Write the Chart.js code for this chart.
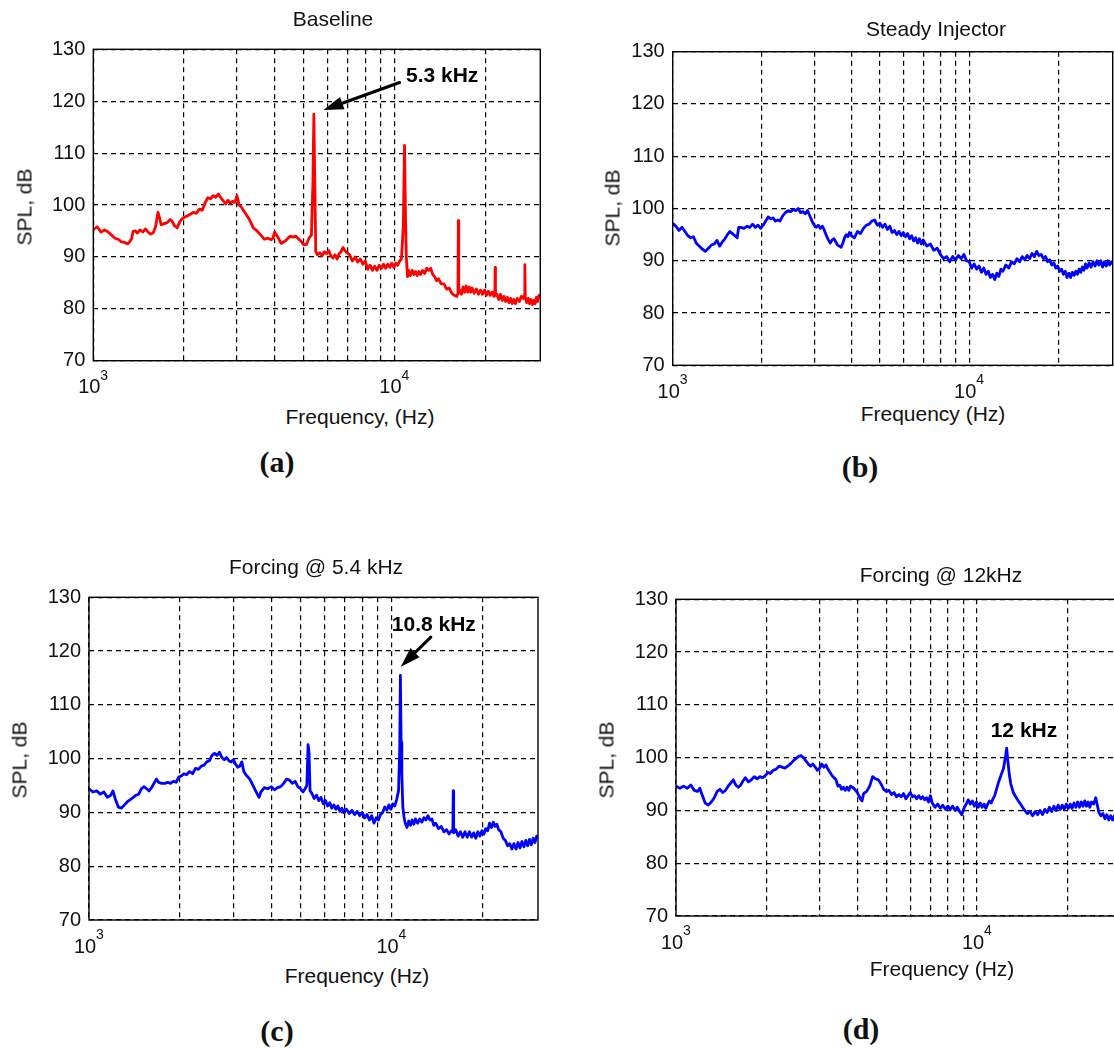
<!DOCTYPE html>
<html><head><meta charset="utf-8">
<script src="https://cdn.jsdelivr.net/npm/chart.js@4.4.1/dist/chart.umd.min.js"></script>
<style>
html,body{margin:0;padding:0;background:#fff;}
body{width:1114px;height:1049px;overflow:hidden;position:relative;font-family:"Liberation Sans",Arial,sans-serif;color:#111;}
canvas{position:absolute;}
.t{position:absolute;transform:translate(-50%,-50%);white-space:nowrap;font-size:21px;line-height:1;}
.yl{transform:translate(-50%,-50%) rotate(-90deg);}
.pl{font-family:"Liberation Serif","Times New Roman",serif;font-weight:bold;font-size:30px;}
</style></head><body>
<canvas id="ca" width="560" height="400" style="left:0px;top:0px"></canvas>
<canvas id="cb" width="534" height="400" style="left:580px;top:0px"></canvas>
<canvas id="cc" width="560" height="400" style="left:0px;top:560px"></canvas>
<canvas id="cd" width="560" height="400" style="left:580px;top:560px"></canvas>

<div class="t" style="left:333px;top:18px">Baseline</div>
<div class="t" style="left:936px;top:28px">Steady Injector</div>
<div class="t" style="left:316px;top:566px">Forcing @ 5.4 kHz</div>
<div class="t" style="left:941px;top:574px">Forcing @ 12kHz</div>

<div class="t" style="left:360px;top:416px">Frequency, (Hz)</div>
<div class="t" style="left:933px;top:413px">Frequency (Hz)</div>
<div class="t" style="left:357px;top:975px">Frequency (Hz)</div>
<div class="t" style="left:942px;top:968px">Frequency (Hz)</div>

<div class="t yl" style="left:24px;top:207px">SPL, dB</div>
<div class="t yl" style="left:612px;top:208px">SPL, dB</div>
<div class="t yl" style="left:19px;top:760px">SPL, dB</div>
<div class="t yl" style="left:606px;top:760px">SPL, dB</div>

<div class="t pl" style="left:277px;top:462px">(a)</div>
<div class="t pl" style="left:860px;top:467px">(b)</div>
<div class="t pl" style="left:277px;top:1031px">(c)</div>
<div class="t pl" style="left:861px;top:1029px">(d)</div>

<script>
// ---- axis definitions ----
const xMin = 1000, xMax = 30500;
const yMin = 70, yMax = 130;
const xGridTicks = [1000,2000,3000,4000,5000,6000,7000,8000,9000,10000,20000];
const xTickBase = {1000:'10', 10000:'10'};
const xTickExp = {1000:'3', 10000:'4'};
const yTicks = [70,80,90,100,110,120,130];

// ---- series: [frequency Hz, SPL dB] ----
const baselineData = [
[1000,95.3],[1030,95.8],[1060,94.8],[1090,95.2],[1120,94.8],[1150,94.2],[1180,93.6],[1210,93.4],[1240,92.9],[1270,92.8],
[1300,92.5],[1320,92.9],[1340,93.5],[1355,94.9],[1380,95.0],[1400,94.6],[1430,95.2],[1460,94.8],[1490,95.4],[1520,94.8],
[1550,94.4],[1580,94.6],[1610,95.8],[1640,98.6],[1660,97.5],[1680,96.2],[1720,96.4],[1760,96.6],[1800,97.2],[1830,96.8],
[1860,96.0],[1900,95.6],[1930,96.6],[1960,97.2],[2000,97.6],[2050,97.9],[2100,98.2],[2150,98.6],[2200,98.4],[2250,99.2],
[2300,99.0],[2350,100.4],[2400,101.4],[2450,101.2],[2500,101.8],[2550,101.5],[2600,102.1],[2650,101.4],[2700,100.8],[2750,100.2],
[2800,100.9],[2850,100.3],[2900,100.7],[2950,100.5],[3000,101.8],[3050,100.0],[3100,99.6],[3150,99.0],[3200,98.4],[3300,97.2],
[3400,95.6],[3500,95.0],[3600,94.2],[3700,93.4],[3800,93.6],[3900,93.3],[3950,93.6],[4000,94.8],[4100,93.8],[4200,92.6],
[4300,92.9],[4400,93.4],[4500,94.0],[4600,93.8],[4700,94.0],[4800,93.5],[4900,93.0],[5000,92.3],[5100,92.4],[5200,93.6],
[5300,94.2],[5360,104.0],[5400,117.5],[5440,104.0],[5480,91.0],[5550,90.4],[5650,90.8],[5750,90.2],[5850,91.0],[5950,90.6],
[6050,91.2],[6150,90.2],[6250,89.8],[6350,90.4],[6450,89.6],[6550,90.6],[6650,91.0],[6750,91.8],[6850,91.2],[6950,90.8],
[7100,90.4],[7250,89.2],[7400,90.0],[7550,89.0],[7700,89.6],[7850,88.6],[8000,89.2],[8150,87.6],[8300,88.4],[8450,87.4],
[8600,88.2],[8750,87.4],[8900,88.4],[9050,87.8],[9200,88.6],[9350,87.8],[9500,88.6],[9650,88.0],[9800,88.8],[9950,88.0],
[10100,88.8],[10250,88.4],[10400,89.2],[10550,89.6],[10700,96.0],[10800,111.5],[10880,98.0],[10950,90.0],[11050,86.2],[11150,87.4],
[11300,86.4],[11450,87.4],[11600,86.6],[11750,87.2],[11900,86.4],[12050,87.2],[12200,86.6],[12400,87.4],[12600,86.8],[12800,87.8],
[13000,87.4],[13200,87.8],[13400,86.6],[13600,86.2],[13800,85.4],[14000,85.8],[14300,84.8],[14600,84.8],[14900,83.8],[15200,84.0],
[15500,83.0],[15800,82.6],[16100,82.4],[16250,83.0],[16300,97.0],[16350,83.0],[16500,83.6],[16700,82.8],[16900,84.2],[17100,83.2],
[17300,84.4],[17500,83.2],[17700,84.2],[17900,83.2],[18100,84.0],[18400,83.0],[18700,83.8],[19000,82.8],[19300,83.6],[19600,82.8],
[19900,83.6],[20200,82.6],[20500,83.4],[20800,82.6],[21100,83.2],[21400,82.4],[21550,83.0],[21600,88.0],[21650,82.6],[21900,82.8],
[22200,81.8],[22500,82.8],[22800,81.6],[23100,82.4],[23400,81.4],[23700,82.2],[24000,81.2],[24300,82.0],[24600,81.0],[24900,81.8],
[25200,81.0],[25600,82.0],[26000,81.4],[26400,82.4],[26800,82.0],[27000,82.6],[27100,88.5],[27200,82.2],[27500,81.2],[27800,82.0],
[28100,81.0],[28400,81.8],[28700,80.8],[29000,81.6],[29300,81.0],[29600,82.2],[29900,81.4],[30200,82.6],[30500,82.2]
];

const steadyData = [
[1000,97.2],[1025,96.6],[1050,95.8],[1075,96.4],[1100,95.6],[1125,94.8],[1150,94.4],[1175,94.6],[1200,93.4],[1230,92.8],
[1260,92.2],[1290,91.8],[1320,92.4],[1350,93.0],[1380,93.2],[1410,93.9],[1440,92.8],[1470,93.6],[1500,94.2],[1530,95.0],
[1560,95.6],[1590,95.2],[1620,94.8],[1650,94.4],[1670,96.4],[1700,96.4],[1740,96.2],[1780,96.6],[1820,96.4],[1860,97.0],
[1900,96.4],[1940,96.8],[1980,96.2],[2020,96.8],[2060,97.6],[2100,98.4],[2140,98.0],[2180,98.2],[2220,97.6],[2260,97.8],
[2300,97.6],[2350,98.6],[2400,99.2],[2450,99.6],[2500,99.4],[2550,99.8],[2600,99.6],[2650,100.0],[2700,99.2],[2750,99.4],
[2800,99.0],[2850,99.6],[2900,98.6],[2950,97.6],[3000,96.8],[3050,96.4],[3100,96.8],[3150,96.2],[3200,96.6],[3250,95.8],
[3300,94.8],[3350,94.0],[3400,93.4],[3450,94.0],[3500,94.2],[3550,93.6],[3600,93.0],[3650,92.8],[3700,92.6],[3750,93.4],
[3800,94.4],[3850,95.0],[3900,94.6],[3950,95.4],[4000,94.8],[4100,94.4],[4200,95.6],[4300,95.2],[4400,96.2],[4500,96.8],
[4600,97.0],[4700,97.6],[4800,97.8],[4900,96.8],[5000,97.2],[5100,96.4],[5200,97.0],[5300,96.0],[5400,96.6],[5500,95.4],
[5600,95.8],[5700,95.0],[5800,95.6],[5900,94.8],[6000,95.4],[6100,94.6],[6200,95.2],[6300,94.2],[6400,94.8],[6500,93.8],
[6600,94.4],[6700,93.4],[6800,94.2],[6900,93.2],[7000,94.0],[7200,92.8],[7400,93.2],[7600,92.0],[7800,92.4],[8000,91.2],
[8200,90.4],[8400,90.8],[8600,89.8],[8800,90.8],[9000,90.2],[9200,91.0],[9400,90.4],[9600,91.2],[9800,90.0],[10000,89.8],
[10200,88.6],[10400,89.4],[10600,88.4],[10800,89.0],[11000,87.8],[11200,88.6],[11400,87.4],[11600,88.0],[11800,86.8],[12000,87.4],
[12200,86.4],[12400,87.6],[12600,87.0],[12800,88.4],[13000,88.0],[13300,89.2],[13600,88.6],[13900,89.8],[14200,89.4],[14500,90.4],
[14800,89.8],[15100,90.8],[15400,90.2],[15700,91.0],[16000,90.4],[16300,91.4],[16600,90.8],[16900,91.8],[17200,91.0],[17500,91.2],
[17800,90.4],[18100,90.8],[18400,89.8],[18700,90.2],[19000,89.2],[19300,89.6],[19600,88.6],[19900,89.0],[20200,88.0],[20500,88.4],
[20800,87.4],[21100,88.0],[21400,86.8],[21700,87.6],[22000,86.8],[22300,87.8],[22600,87.2],[22900,88.0],[23200,87.4],[23500,88.4],
[23800,87.8],[24100,88.8],[24400,88.2],[24700,89.4],[25000,88.6],[25400,89.6],[25800,88.8],[26200,89.8],[26600,89.0],[27000,90.0],
[27400,89.2],[27800,90.0],[28200,88.8],[28600,89.8],[29000,89.0],[29400,90.0],[29800,89.2],[30200,89.8],[30500,89.4]
];

const forcing54Data = [
[1000,94.4],[1030,93.8],[1060,94.0],[1090,93.4],[1120,93.8],[1150,92.8],[1180,93.2],[1200,94.0],[1220,92.6],[1250,91.0],
[1280,90.8],[1310,91.4],[1340,92.0],[1370,92.4],[1400,92.8],[1430,93.2],[1460,93.4],[1490,94.4],[1520,94.8],[1550,94.4],
[1580,94.0],[1610,94.6],[1640,95.4],[1670,96.2],[1700,95.6],[1740,95.4],[1780,95.4],[1820,95.6],[1860,95.4],[1900,95.8],
[1940,95.6],[1980,96.6],[2020,96.8],[2060,97.2],[2100,97.0],[2150,97.6],[2200,97.2],[2250,98.2],[2300,98.0],[2350,98.6],
[2400,98.8],[2450,99.4],[2500,99.6],[2550,100.6],[2600,101.0],[2650,100.6],[2700,101.2],[2750,100.2],[2800,99.8],[2850,100.2],
[2900,99.6],[2950,99.4],[3000,99.8],[3050,99.0],[3100,98.4],[3150,98.6],[3200,99.4],[3250,97.6],[3300,97.0],[3400,96.2],
[3500,94.8],[3600,93.4],[3650,92.8],[3700,93.8],[3800,94.6],[3900,94.4],[4000,94.8],[4100,94.2],[4200,94.6],[4300,94.8],
[4400,95.4],[4500,96.2],[4600,96.0],[4700,95.4],[4800,95.8],[4900,94.8],[5000,94.4],[5100,93.8],[5200,94.6],[5250,95.0],
[5300,102.6],[5340,101.0],[5380,94.0],[5450,93.6],[5550,92.6],[5650,93.2],[5750,92.2],[5850,92.8],[5950,91.6],[6050,92.2],
[6150,91.2],[6250,91.8],[6350,90.8],[6450,91.4],[6550,90.6],[6650,91.2],[6750,90.2],[6850,90.8],[6950,90.0],[7100,90.6],
[7250,89.8],[7400,90.4],[7550,89.6],[7700,90.2],[7850,89.4],[8000,90.0],[8150,89.0],[8300,89.6],[8450,88.6],[8600,89.4],
[8750,88.0],[8900,89.0],[9050,88.6],[9200,89.6],[9350,90.0],[9500,91.0],[9650,90.4],[9800,91.4],[9950,90.6],[10100,91.6],
[10250,91.2],[10400,92.4],[10550,94.0],[10650,102.0],[10700,115.5],[10760,103.0],[10820,97.0],[10900,91.0],[11000,89.2],[11100,88.0],
[11250,87.2],[11400,88.4],[11550,87.6],[11700,88.6],[11850,87.8],[12000,88.8],[12200,88.0],[12400,88.8],[12600,88.2],[12800,89.0],
[13000,88.6],[13200,89.4],[13400,88.6],[13600,88.8],[13800,87.6],[14000,88.0],[14300,87.0],[14600,87.4],[14900,86.4],[15200,86.8],
[15500,86.0],[15800,86.6],[15950,86.4],[16000,94.0],[16050,86.2],[16300,86.8],[16600,85.6],[16900,86.4],[17200,85.4],[17500,86.4],
[17800,85.4],[18100,86.4],[18400,85.4],[18700,86.2],[19000,85.2],[19300,86.4],[19600,85.6],[19900,86.6],[20200,86.0],[20500,87.0],
[20800,86.6],[21100,88.0],[21400,87.2],[21700,88.2],[22000,87.4],[22300,87.8],[22600,86.8],[23000,86.4],[23400,85.2],[23800,84.8],
[24200,83.8],[24600,84.2],[25000,83.2],[25400,84.2],[25800,83.2],[26200,84.4],[26600,83.4],[27000,84.6],[27400,83.6],[27800,84.8],
[28200,83.8],[28600,85.0],[29000,84.0],[29400,85.2],[29800,84.4],[30200,85.6],[30500,85.2]
];

const forcing12Data = [
[1000,94.6],[1030,94.2],[1060,94.6],[1090,94.2],[1120,94.8],[1150,93.8],[1180,93.6],[1200,94.2],[1220,93.0],[1250,91.4],
[1280,91.0],[1310,91.6],[1340,92.4],[1370,93.6],[1400,94.0],[1430,93.4],[1460,93.8],[1490,94.6],[1520,95.2],[1550,95.8],
[1580,94.8],[1610,94.4],[1640,94.8],[1670,95.6],[1700,96.2],[1740,95.4],[1780,95.8],[1820,96.4],[1860,96.0],[1900,96.4],
[1940,96.2],[1980,96.6],[2020,97.2],[2060,97.0],[2100,97.6],[2150,97.8],[2200,98.4],[2250,98.2],[2300,98.0],[2350,98.4],
[2400,98.8],[2450,99.4],[2500,99.8],[2550,100.2],[2600,100.4],[2650,100.0],[2700,99.4],[2750,98.8],[2800,98.4],[2850,98.8],
[2900,98.2],[2950,97.6],[3000,98.0],[3050,98.8],[3100,98.2],[3150,98.6],[3200,97.8],[3250,97.2],[3300,96.6],[3350,96.2],
[3400,95.8],[3450,94.6],[3500,94.8],[3550,94.0],[3600,94.4],[3650,93.8],[3700,94.4],[3750,93.8],[3800,94.6],[3900,94.2],
[4000,93.4],[4100,92.2],[4150,91.8],[4200,93.2],[4300,93.6],[4400,94.6],[4500,96.4],[4600,96.0],[4700,95.8],[4800,95.0],
[4900,94.0],[5000,93.6],[5100,93.8],[5200,93.0],[5300,93.4],[5400,92.6],[5500,93.0],[5600,92.6],[5700,93.2],[5800,92.2],
[5900,92.8],[6000,93.4],[6100,92.6],[6200,92.8],[6300,92.2],[6400,92.8],[6500,92.2],[6600,92.6],[6700,92.0],[6800,92.4],
[6900,91.6],[7000,92.8],[7100,91.4],[7250,90.6],[7400,91.2],[7550,90.4],[7700,91.0],[7850,90.2],[8000,90.8],[8150,90.2],
[8300,90.8],[8450,90.0],[8600,90.6],[8750,89.8],[8900,89.2],[9050,90.4],[9200,91.2],[9350,92.0],[9500,91.2],[9650,91.8],
[9800,90.8],[9950,91.6],[10100,90.6],[10250,91.4],[10400,90.6],[10550,91.2],[10700,90.4],[10850,91.2],[11000,91.8],[11150,91.4],
[11300,92.2],[11450,92.8],[11600,94.0],[11800,95.4],[12000,96.6],[12250,98.0],[12450,100.4],[12550,101.8],[12650,99.6],[12800,96.8],
[12950,95.0],[13200,93.4],[13500,92.4],[13800,91.6],[14100,90.8],[14400,90.0],[14700,89.4],[15000,89.8],[15300,89.0],[15600,89.8],
[15900,89.2],[16200,90.0],[16500,89.2],[16800,90.2],[17100,89.6],[17400,90.6],[17700,89.8],[18000,90.8],[18300,90.0],[18600,91.0],
[18900,90.2],[19200,91.0],[19500,90.2],[19800,91.2],[20100,90.4],[20400,91.2],[20700,90.4],[21000,91.4],[21300,90.6],[21600,91.6],
[21900,90.6],[22200,91.6],[22500,90.8],[22800,91.8],[23100,90.8],[23400,91.6],[23700,90.6],[24000,91.6],[24400,91.2],[24800,92.4],
[25100,91.0],[25400,89.6],[25800,89.0],[26200,89.4],[26600,88.4],[27000,89.2],[27400,88.2],[27800,89.0],[28200,88.2],[28600,89.0],
[29000,88.0],[29400,88.8],[29800,88.0],[30200,88.8],[30500,88.6]
];

// ---- annotations (positions in data units) ----
const notesA = [{text:'5.3 kHz', x:14400, y:124.9, from:[10400,123.6], to:[5810,118.3]}];
const notesC = [{text:'10.8 kHz', x:13800, y:124.85, from:[13490,122.6], to:[10730,117.1]}];
const notesD = [{text:'12 kHz', x:14320, y:105.05}];

// ---- layout (page pixels) ----
const panels = [
  {id:'ca', data:baselineData, color:'#ff0000', notes:notesA,
   box:{left:0, top:0, width:560, height:400}, area:{left:93.3, top:49.3, right:540.3, bottom:360.7}},
  {id:'cb', data:steadyData, color:'#0000ff', notes:[],
   box:{left:580, top:0, width:534, height:400}, area:{left:672.7, top:51.7, right:1112.7, bottom:365.3}},
  {id:'cc', data:forcing54Data, color:'#0000ff', notes:notesC,
   box:{left:0, top:560, width:560, height:400}, area:{left:89, top:597.3, right:538, bottom:920}},
  {id:'cd', data:forcing12Data, color:'#0000ff', notes:notesD,
   box:{left:580, top:560, width:560, height:400}, area:{left:676, top:599.3, right:1122.8, bottom:916}}
];

Chart.defaults.font.family = '"Liberation Sans", Arial, Helvetica, sans-serif';
Chart.defaults.color = '#111';

const framePlugin = {
  id: 'frame',
  afterDatasetsDraw(chart, args, opts) {
    const {ctx, chartArea: a, scales: {x, y}} = chart;
    ctx.save();
    ctx.setLineDash([]);
    ctx.strokeStyle = '#000';
    ctx.lineWidth = 1.4;
    ctx.strokeRect(a.left, a.top, a.right - a.left, a.bottom - a.top);
    (opts.notes || []).forEach(n => {
      if (n.from && n.to) {
        const x1 = x.getPixelForValue(n.from[0]), y1 = y.getPixelForValue(n.from[1]);
        const x2 = x.getPixelForValue(n.to[0]), y2 = y.getPixelForValue(n.to[1]);
        const ang = Math.atan2(y2 - y1, x2 - x1);
        const hl = 20, hw = 6.5;
        const bx = x2 - hl * Math.cos(ang), by = y2 - hl * Math.sin(ang);
        ctx.strokeStyle = '#000'; ctx.lineWidth = 3; ctx.lineCap = 'round';
        ctx.beginPath(); ctx.moveTo(x1, y1); ctx.lineTo(bx, by); ctx.stroke();
        ctx.fillStyle = '#000';
        ctx.beginPath();
        ctx.moveTo(x2, y2);
        ctx.lineTo(bx + hw * Math.sin(ang), by - hw * Math.cos(ang));
        ctx.lineTo(bx - hw * Math.sin(ang), by + hw * Math.cos(ang));
        ctx.closePath(); ctx.fill();
      }
      ctx.font = 'bold 21px "Liberation Sans", Arial, sans-serif';
      ctx.fillStyle = '#000';
      ctx.textAlign = 'center';
      ctx.textBaseline = 'middle';
      ctx.fillText(n.text, x.getPixelForValue(n.x), y.getPixelForValue(n.y));
    });
    ctx.restore();
  },
  afterDraw(chart) {
    // decade exponents for the x tick labels
    const {ctx, scales: {x}, chartArea: a} = chart;
    ctx.save();
    ctx.font = '14px "Liberation Sans", Arial, sans-serif';
    ctx.fillStyle = '#111';
    ctx.textAlign = 'left';
    ctx.textBaseline = 'middle';
    Object.keys(xTickExp).forEach(k => {
      const px = x.getPixelForValue(Number(k));
      ctx.fillText(xTickExp[k], px + 7, a.bottom + 15);
    });
    ctx.restore();
  }
};

panels.forEach(p => {
  const b = p.box, a = p.area;
  const gridOpts = {color: '#000', lineWidth: 1.2, drawTicks: false};
  new Chart(document.getElementById(p.id), {
    type: 'line',
    data: {datasets: [{
      data: p.data.map(([f, s]) => ({x: f, y: s})),
      borderColor: p.color, borderWidth: 2.8, pointRadius: 0, tension: 0,
      fill: false, borderJoinStyle: 'round'
    }]},
    options: {
      responsive: false, animation: false, devicePixelRatio: 1,
      layout: {padding: {left: 0, top: a.top - b.top, right: b.left + b.width - a.right, bottom: 0}},
      plugins: {legend: {display: false}, tooltip: {enabled: false}, title: {display: false},
                frame: {notes: p.notes}},
      scales: {
        x: {
          type: 'logarithmic', min: xMin, max: xMax,
          afterBuildTicks: s => { s.ticks = xGridTicks.map(v => ({value: v})); },
          afterFit: s => { s.height = b.top + b.height - a.bottom; },
          grid: gridOpts,
          border: {display: false, dash: [5, 4]},
          ticks: {autoSkip: false, maxRotation: 0, minRotation: 0, padding: 15, labelOffset: -4, color: '#111',
                  font: {size: 20}, callback: v => xTickBase[v] || ''}
        },
        y: {
          type: 'linear', min: yMin, max: yMax,
          afterBuildTicks: s => { s.ticks = yTicks.map(v => ({value: v})); },
          afterFit: s => { s.width = a.left - b.left; },
          grid: gridOpts,
          border: {display: false, dash: [5, 4]},
          ticks: {padding: 8, color: '#111', font: {size: 20}, callback: v => String(v)}
        }
      }
    },
    plugins: [framePlugin]
  });
});
</script>
</body></html>
